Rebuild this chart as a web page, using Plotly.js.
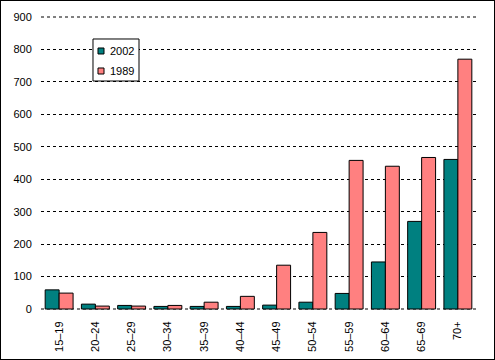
<!DOCTYPE html>
<html>
<head>
<meta charset="utf-8">
<script src="https://cdn.plot.ly/plotly-3.0.1.min.js"></script>
<style>
html,body{margin:0;padding:0;background:#fff;}
#chart{width:495px;height:360px;box-sizing:border-box;border:1px solid #000;}
</style>
</head>
<body>
<div id="chart"></div>
<script>
const categories = ["15–19","20–24","25–29","30–34","35–39","40–44","45–49","50–54","55–59","60–64","65–69","70+"];
const seriesNames = ["2002","1989"];
const seriesColors = ["#008080","#FF8080"];
const values2002 = [59, 15, 11, 8, 8, 8, 12, 21, 48, 145, 270, 461];
const values1989 = [49, 9, 9, 11, 21, 39, 135, 236, 458, 440, 467, 770];
const yTicks = [0,100,200,300,400,500,600,700,800,900];

const traces = [
  {type:'bar', name:seriesNames[0], x:categories, y:values2002,
   marker:{color:seriesColors[0], line:{color:'#000', width:1}}},
  {type:'bar', name:seriesNames[1], x:categories, y:values1989,
   marker:{color:seriesColors[1], line:{color:'#000', width:1}}}
];

// edge gridlines (0 and 900) that Plotly omits at the plot border
const edgeLines = [yTicks[0], yTicks[yTicks.length-1]].map(v => ({
  type:'line', xref:'paper', yref:'y', x0:0, x1:1, y0:v, y1:v,
  line:{color:'#000', width:1, dash:'3px,3px'}, layer:'below'
}));

// legend box drawn as layout decoration (paper coordinates)
const legendShapes = [
  {type:'rect', xref:'paper', yref:'paper', x0:0.11954, x1:0.22529, y0:0.77891, y1:0.92177,
   line:{color:'#000', width:1}, fillcolor:'#fff', layer:'above'},
  {type:'rect', xref:'paper', yref:'paper', x0:0.13103, x1:0.14483, y0:0.87075, y1:0.89116,
   line:{color:'#000', width:1}, fillcolor:seriesColors[0], layer:'above'},
  {type:'rect', xref:'paper', yref:'paper', x0:0.13103, x1:0.14483, y0:0.80272, y1:0.82313,
   line:{color:'#000', width:1}, fillcolor:seriesColors[1], layer:'above'}
];
const legendAnn = [
  {xref:'paper', yref:'paper', x:0.155, y:0.88095, xanchor:'left', yanchor:'middle',
   text:seriesNames[0], showarrow:false, font:{size:11}},
  {xref:'paper', yref:'paper', x:0.155, y:0.81293, xanchor:'left', yanchor:'middle',
   text:seriesNames[1], showarrow:false, font:{size:11}}
];

const layout = {
  width:493, height:358,
  margin:{l:40, r:18, t:15, b:49, pad:0},
  paper_bgcolor:'#fff', plot_bgcolor:'#fff',
  font:{family:'"Liberation Sans", Arial, sans-serif', size:11, color:'#000'},
  barmode:'group', bargap:0.23, bargroupgap:0,
  showlegend:false,
  shapes:edgeLines.concat(legendShapes),
  annotations:legendAnn,
  xaxis:{type:'category', tickangle:-90, showline:false, showgrid:false,
    ticks:'outside', ticklen:6, tickcolor:'rgba(0,0,0,0)', zeroline:false, fixedrange:true,
    tickfont:{size:11}, automargin:false},
  yaxis:{range:[-3.08,903.08], tickvals:yTicks, ticktext:yTicks.map(String),
    showgrid:true, gridcolor:'#000', gridwidth:1, griddash:'3px,3px',
    zeroline:false, showline:false, ticks:'outside', ticklen:6, tickcolor:'rgba(0,0,0,0)',
    tickfont:{size:11}, fixedrange:true, automargin:false}
};

Plotly.newPlot('chart', traces, layout, {staticPlot:true, displayModeBar:false});
</script>
</body>
</html>
